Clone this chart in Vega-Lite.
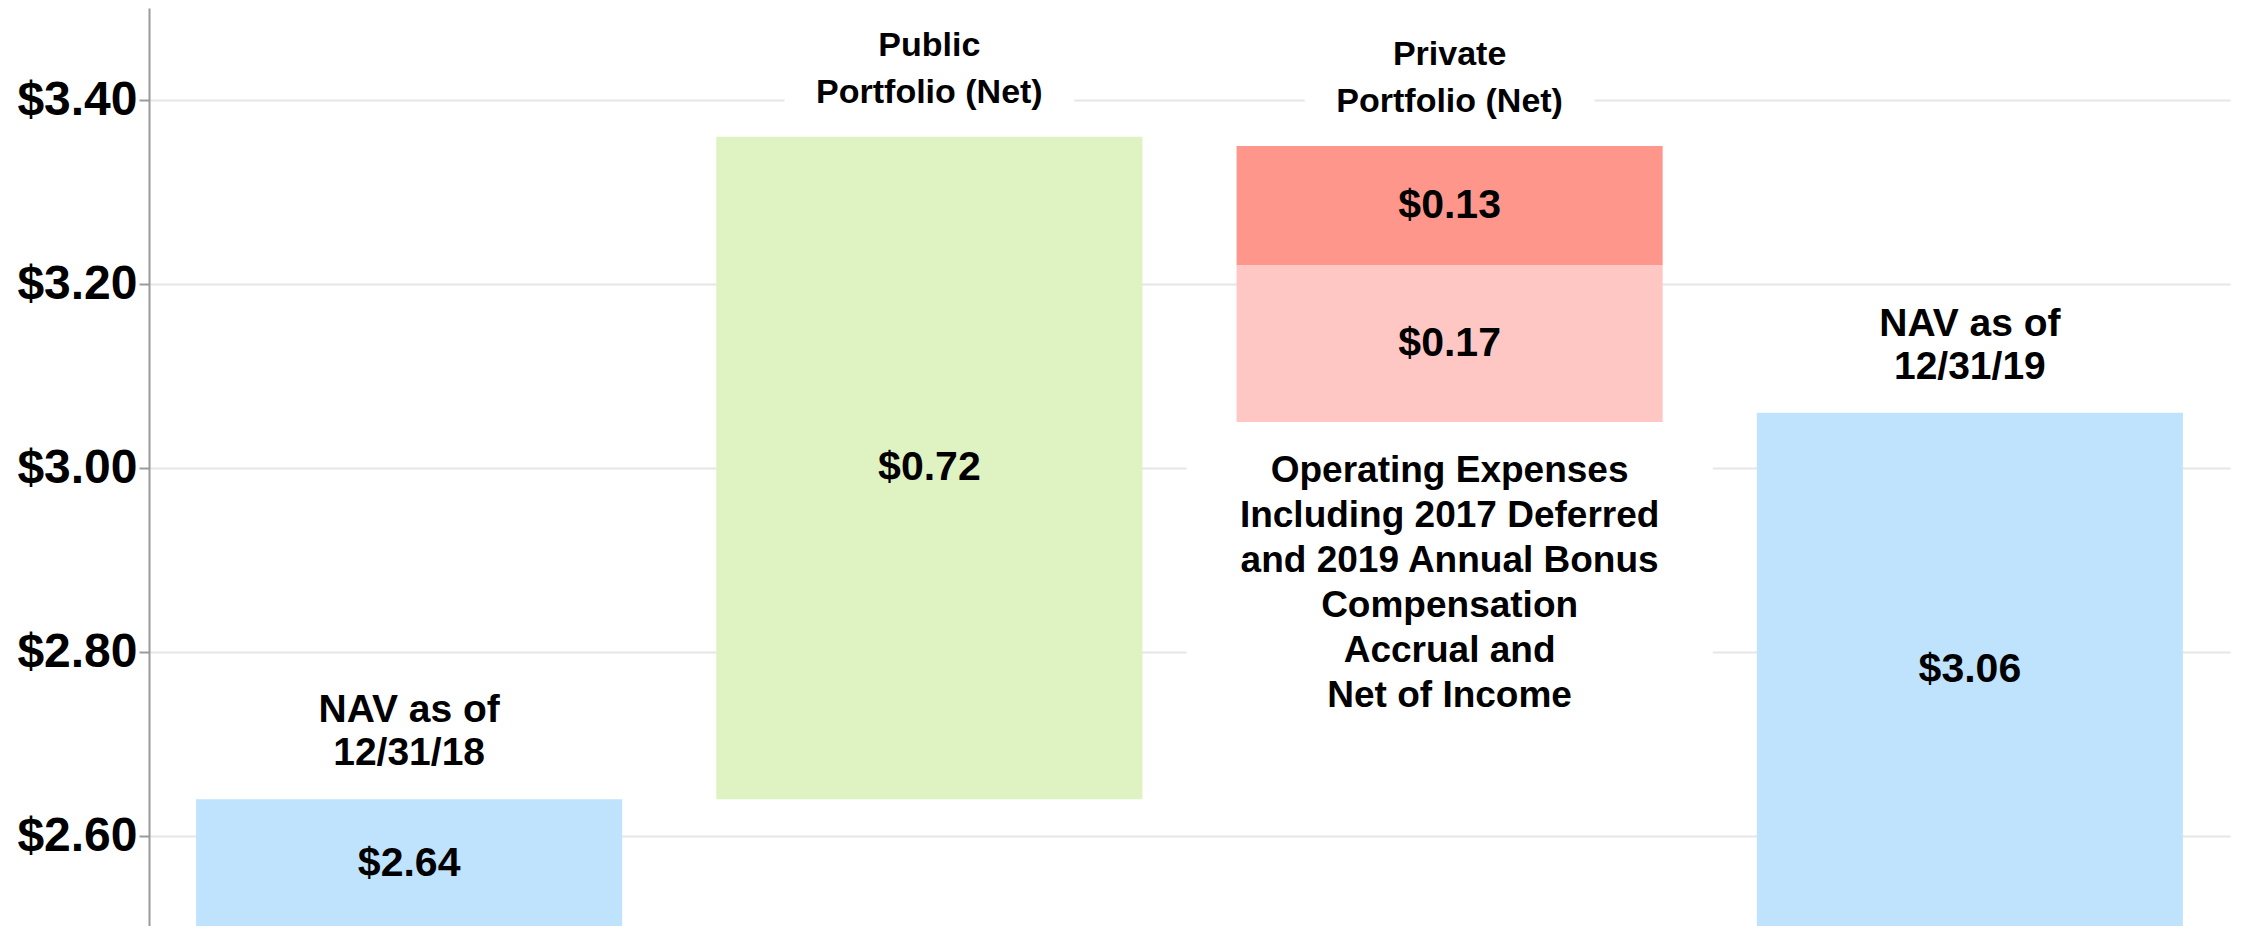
{
  "$schema": "https://vega.github.io/schema/vega-lite/v6.json",
  "width": 2081,
  "height": 920,
  "autosize": {"type": "none"},
  "padding": {"left": 149, "top": 8, "right": 11, "bottom": 0},
  "background": "white",
  "config": {
    "view": {"stroke": null},
    "font": "Liberation Sans",
    "axisY": {
      "labelFont": "Liberation Sans",
      "labelFontWeight": "bold",
      "labelFontSize": 48,
      "labelColor": "#000000",
      "labelPadding": 2,
      "tickSize": 10,
      "tickColor": "#9a9a9a",
      "tickWidth": 2,
      "domainColor": "#9a9a9a",
      "domainWidth": 2,
      "gridColor": "#e6e6e6",
      "gridWidth": 2,
      "grid": true
    }
  },
  "datasets": {
    "bars": [
      {"step": "NAV 12/31/18", "part": "NAV as of 12/31/18", "low": 0, "high": 2.64, "value": 2.64, "title": "NAV as of\n12/31/18", "titleKind": "nav"},
      {"step": "Public Portfolio (Net)", "part": "Public Portfolio (Net)", "low": 2.64, "high": 3.36, "value": 0.72, "title": "Public\nPortfolio (Net)", "titleKind": "portfolio"},
      {"step": "Private Portfolio (Net)", "part": "Private Portfolio (Net)", "low": 3.22, "high": 3.35, "value": 0.13, "title": "Private\nPortfolio (Net)", "titleKind": "portfolio"},
      {"step": "Private Portfolio (Net)", "part": "Operating Expenses", "low": 3.05, "high": 3.22, "value": 0.17, "title": "Operating Expenses\nIncluding 2017 Deferred\nand 2019 Annual Bonus\nCompensation\nAccrual and\nNet of Income", "titleKind": "opex"},
      {"step": "NAV 12/31/19", "part": "NAV as of 12/31/19", "low": 0, "high": 3.06, "value": 3.06, "title": "NAV as of\n12/31/19", "titleKind": "nav"}
    ]
  },
  "data": {"name": "bars"},
  "encoding": {
    "x": {
      "field": "step",
      "type": "nominal",
      "sort": ["NAV 12/31/18", "Public Portfolio (Net)", "Private Portfolio (Net)", "NAV 12/31/19"],
      "scale": {"paddingInner": 0.181, "paddingOuter": 0.0905},
      "axis": null
    }
  },
  "layer": [
    {
      "transform": [{"filter": "datum.titleKind === 'portfolio'"}],
      "mark": {"type": "bar", "color": "white", "width": {"band": 0.68}, "yOffset": -12, "y2Offset": -124},
      "encoding": {
        "y": {"field": "high", "type": "quantitative", "scale": {"domain": [2.5, 3.5], "nice": false, "zero": false}, "axis": {"title": null, "values": [2.6, 2.8, 3.0, 3.2, 3.4], "format": "$.2f"}},
        "y2": {"field": "high"}
      }
    },
    {
      "transform": [{"filter": "datum.titleKind === 'opex'"}],
      "mark": {"type": "bar", "color": "white", "width": {"band": 1.235}, "yOffset": 12, "y2Offset": 310},
      "encoding": {
        "y": {"field": "low", "type": "quantitative", "scale": {"domain": [2.5, 3.5], "nice": false, "zero": false}, "axis": {"title": null, "values": [2.6, 2.8, 3.0, 3.2, 3.4], "format": "$.2f"}},
        "y2": {"field": "low"}
      }
    },
    {
      "mark": {"type": "bar", "clip": true},
      "encoding": {
        "y": {"field": "low", "type": "quantitative", "scale": {"domain": [2.5, 3.5], "nice": false, "zero": false}, "axis": {"title": null, "values": [2.6, 2.8, 3.0, 3.2, 3.4], "format": "$.2f"}},
        "y2": {"field": "high"},
        "color": {
          "field": "part",
          "type": "nominal",
          "scale": {
            "domain": ["NAV as of 12/31/18", "Public Portfolio (Net)", "Private Portfolio (Net)", "Operating Expenses", "NAV as of 12/31/19"],
            "range": ["#bfe3fd", "#dff2c2", "#ff968c", "#ffc7c3", "#bfe3fd"]
          },
          "legend": null
        }
      }
    },
    {
      "transform": [{"calculate": "(max(datum.low, 2.5) + datum.high) / 2", "as": "mid"}],
      "mark": {"type": "text", "font": "Liberation Sans", "fontWeight": "bold", "fontSize": 41, "color": "#000000", "baseline": "middle", "align": "center"},
      "encoding": {
        "y": {"field": "mid", "type": "quantitative", "scale": {"domain": [2.5, 3.5], "nice": false, "zero": false}, "axis": {"title": null, "values": [2.6, 2.8, 3.0, 3.2, 3.4], "format": "$.2f"}},
        "text": {"field": "value", "type": "quantitative", "format": "$.2f"}
      }
    },
    {
      "transform": [{"filter": "datum.titleKind === 'nav'"}],
      "mark": {"type": "text", "font": "Liberation Sans", "fontWeight": "bold", "fontSize": 39, "lineHeight": 43, "lineBreak": "\n", "color": "#000000", "baseline": "middle", "align": "center", "dy": -89},
      "encoding": {
        "y": {"field": "high", "type": "quantitative", "scale": {"domain": [2.5, 3.5], "nice": false, "zero": false}, "axis": {"title": null, "values": [2.6, 2.8, 3.0, 3.2, 3.4], "format": "$.2f"}},
        "text": {"field": "title", "type": "nominal"}
      }
    },
    {
      "transform": [{"filter": "datum.titleKind === 'portfolio'"}],
      "mark": {"type": "text", "font": "Liberation Sans", "fontWeight": "bold", "fontSize": 34, "lineHeight": 47, "lineBreak": "\n", "color": "#000000", "baseline": "middle", "align": "center", "dy": -91},
      "encoding": {
        "y": {"field": "high", "type": "quantitative", "scale": {"domain": [2.5, 3.5], "nice": false, "zero": false}, "axis": {"title": null, "values": [2.6, 2.8, 3.0, 3.2, 3.4], "format": "$.2f"}},
        "text": {"field": "title", "type": "nominal"}
      }
    },
    {
      "transform": [{"filter": "datum.titleKind === 'opex'"}],
      "mark": {"type": "text", "font": "Liberation Sans", "fontWeight": "bold", "fontSize": 37, "lineHeight": 45, "lineBreak": "\n", "color": "#000000", "baseline": "middle", "align": "center", "dy": 49},
      "encoding": {
        "y": {"field": "low", "type": "quantitative", "scale": {"domain": [2.5, 3.5], "nice": false, "zero": false}, "axis": {"title": null, "values": [2.6, 2.8, 3.0, 3.2, 3.4], "format": "$.2f"}},
        "text": {"field": "title", "type": "nominal"}
      }
    }
  ]
}
